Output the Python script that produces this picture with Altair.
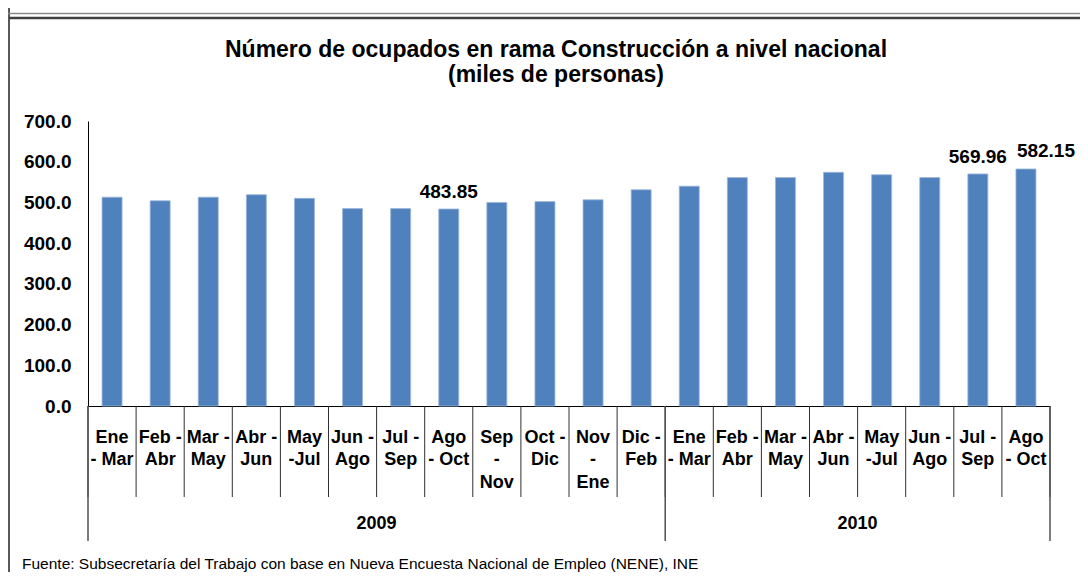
import altair as alt
import pandas as pd

# ---- data ----
periods = ["Ene|- Mar", "Feb -|Abr", "Mar -|May", "Abr -|Jun", "May|-Jul", "Jun -|Ago",
           "Jul -|Sep", "Ago|- Oct", "Sep|-|Nov", "Oct -|Dic", "Nov|-|Ene", "Dic -|Feb",
           "Ene|- Mar", "Feb -|Abr", "Mar -|May", "Abr -|Jun", "May|-Jul", "Jun -|Ago",
           "Jul -|Sep", "Ago|- Oct"]
years = ["2009"] * 12 + ["2010"] * 8
values = [513, 504, 513, 519, 510, 485, 485, 483.85, 500, 502, 506.5, 531,
          540, 561, 561, 574, 568, 561, 569.96, 582.15]
labelled = [False] * 7 + [True] + [False] * 10 + [True, True]
y_ticks = [0, 100, 200, 300, 400, 500, 600, 700]

title_lines = ["Número de ocupados en rama Construcción a nivel nacional",
               "(miles de personas)"]
footer = "Fuente: Subsecretaría del Trabajo con base en Nueva Encuesta Nacional de Empleo (NENE), INE"

FONT = "Liberation Sans"
BLUE = "#4F81BD"
W, H = 962, 285
n = len(periods)

df = pd.DataFrame({
    "key": [f"{i}|{p}" for i, p in enumerate(periods)],
    "value": values,
    "idx": list(range(n)),
})
df["lab_mid"] = [f"{v:.2f}" if (l and i < n - 1) else "" for i, (v, l) in enumerate(zip(values, labelled))]
df["lab_last"] = [f"{v:.2f}" if (l and i == n - 1) else "" for i, (v, l) in enumerate(zip(values, labelled))]

# category boundaries and year groups (derived from the lists above)
sep_df = pd.DataFrame({"pos": list(range(n + 1))})
year_names = []
year_start = []
year_end = []
for i, y in enumerate(years):
    if not year_names or year_names[-1] != y:
        year_names.append(y)
        year_start.append(i)
        year_end.append(i + 1)
    else:
        year_end[-1] = i + 1
year_df = pd.DataFrame({"year": year_names, "start": year_start, "end": year_end})
year_df["mid"] = (year_df["start"] + year_df["end"]) / 2
ybound_df = pd.DataFrame({"pos": sorted(set(year_start + year_end))})

lin = alt.Scale(domain=[0, n], nice=False, zero=False)
band_x = alt.X("key:N", sort=None, axis=None)

bars = alt.Chart(df).mark_bar(size=20, color=BLUE, stroke="#9db6dc", strokeWidth=0.8).encode(
    x=alt.X("key:N", sort=None, title=None,
            axis=alt.Axis(ticks=False, labelAngle=0, labelExpr="slice(split(datum.label,'|'),1)",
                          labelFont=FONT, labelFontSize=18, labelFontWeight="bold",
                          labelColor="black", labelLineHeight=22.5, labelBaseline="top",
                          labelPadding=22, labelOverlap=False, labelLimit=0,
                          domainColor="black", domainWidth=1)),
    y=alt.Y("value:Q", title=None, scale=alt.Scale(domain=[0, 700], nice=False),
            axis=alt.Axis(values=y_ticks, format=".1f", ticks=False, grid=False,
                          labelFont=FONT, labelFontSize=19, labelFontWeight="bold",
                          labelColor="black", labelPadding=17,
                          domainColor="black", domainWidth=1)),
)

labels_mid = alt.Chart(df).mark_text(font=FONT, fontSize=19, fontWeight="bold", color="black",
                                     baseline="alphabetic", dy=-11).encode(
    x=band_x, y="value:Q", text="lab_mid:N")

labels_last = alt.Chart(df).mark_text(font=FONT, fontSize=19, fontWeight="bold", color="black",
                                      baseline="alphabetic", dy=-12, dx=20).encode(
    x=band_x, y="value:Q", text="lab_last:N")

seps = alt.Chart(sep_df).mark_rule(color="#303030", strokeWidth=1).encode(
    x=alt.X("pos:Q", scale=lin, axis=None), y=alt.value(H), y2=alt.value(H + 91))

ysep = alt.Chart(ybound_df).mark_rule(color="#505050", strokeWidth=1.5).encode(
    x=alt.X("pos:Q", scale=lin, axis=None), y=alt.value(H), y2=alt.value(H + 135))

ytext = alt.Chart(year_df).mark_text(font=FONT, fontSize=18, fontWeight="bold",
                                     color="black", baseline="middle").encode(
    x=alt.X("mid:Q", scale=lin, axis=None), y=alt.value(H + 118), text="year:N")

title = alt.Chart(pd.DataFrame({"t": [0]})).mark_text(
    text=title_lines, font=FONT, fontSize=23, fontWeight="bold", color="black",
    align="center", baseline="alphabetic", lineHeight=25).encode(
    x=alt.value(468), y=alt.value(-64))

foot = alt.Chart(pd.DataFrame({"t": [footer]})).mark_text(
    font=FONT, fontSize=15.5, color="black", align="left", baseline="middle").encode(
    x=alt.value(-66), y=alt.value(443), text="t:N")

border_left = alt.Chart(pd.DataFrame({"t": [0]})).mark_rule(color="#222222", strokeWidth=1.5).encode(
    x=alt.value(-79), y=alt.value(-113), y2=alt.value(451))
border_top1 = alt.Chart(pd.DataFrame({"t": [0]})).mark_rule(color="#8a8a8a", strokeWidth=1.5).encode(
    x=alt.value(-80), x2=alt.value(992), y=alt.value(-107.5))
border_top2 = alt.Chart(pd.DataFrame({"t": [0]})).mark_rule(color="#404040", strokeWidth=2.5).encode(
    x=alt.value(-79), x2=alt.value(992), y=alt.value(-103))

chart = alt.layer(
    bars, labels_mid, labels_last, seps, ysep, ytext, title, foot,
    border_left, border_top1, border_top2
).resolve_scale(x="independent").properties(
    width=W, height=H,
    padding={"left": 80, "top": 113, "right": 30, "bottom": 166},
    autosize=alt.AutoSizeParams(type="none"),
    background="white",
).configure_view(stroke=None)

chart.save("out.html", embed_options={"renderer": "svg", "actions": False})
